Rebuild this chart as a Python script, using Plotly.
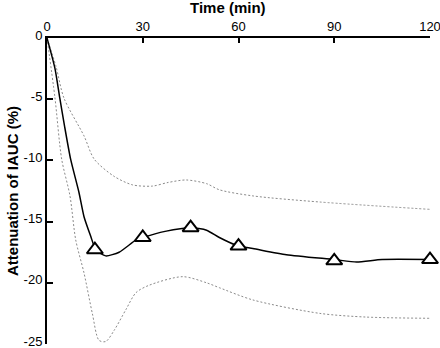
import plotly.graph_objects as go

# Mean curve (smoothed line)
curve_t = [0, 2.5, 4, 5.5, 7.4, 10, 11.6, 13.7, 15.3, 18.4, 22.6, 27.9, 30, 37, 45, 50, 54, 60, 64.5, 75, 90, 97, 105, 120]
curve_v = [0, -2.5, -4.9, -7.2, -9.9, -12.6, -14.6, -16.2, -17.3, -17.8, -17.5, -16.5, -16.3, -15.8, -15.5, -15.7, -16.3, -17.0, -17.2, -17.7, -18.1, -18.3, -18.1, -18.1]

# Measured time points (triangles)
marker_t = [15, 30, 45, 60, 90, 120]
marker_v = [-17.3, -16.3, -15.5, -17.0, -18.2, -18.1]

# Upper confidence band
upper_t = [0, 2.8, 5.3, 11.6, 14.8, 21, 26.8, 33, 38, 43.6, 50, 54, 64.5, 85.5, 120]
upper_v = [0, -2.3, -4.9, -8.0, -9.9, -11.3, -12.0, -12.1, -11.8, -11.6, -11.9, -12.4, -12.9, -13.4, -14.0]

# Lower confidence band
lower_t = [0, 2.5, 4.6, 7.2, 9, 11.6, 14.2, 16.3, 18.4, 21, 24.7, 27.9, 32, 42.5, 50, 54, 64.5, 85.5, 100, 120]
lower_v = [0, -4.9, -9.9, -12.9, -16.5, -19.2, -22.5, -24.7, -24.8, -23.9, -22.2, -20.8, -20.2, -19.5, -20.0, -20.4, -21.4, -22.5, -22.8, -22.9]

x_ticks = [0, 30, 60, 90, 120]
y_ticks = [0, -5, -10, -15, -20, -25]

x_title = "Time (min)"
y_title = "Attenuation of IAUC (%)"

fig = go.Figure()
dash_style = dict(color="#8a8a8a", width=1, dash="2px,2px", shape="spline", smoothing=0.8)
fig.add_trace(go.Scatter(x=upper_t, y=upper_v, mode="lines", line=dash_style, hoverinfo="skip", cliponaxis=False))
fig.add_trace(go.Scatter(x=lower_t, y=lower_v, mode="lines", line=dash_style, hoverinfo="skip", cliponaxis=False))
fig.add_trace(go.Scatter(x=curve_t, y=curve_v, mode="lines", cliponaxis=False,
                         line=dict(color="black", width=1.5, shape="spline", smoothing=0.6)))
fig.add_trace(go.Scatter(x=marker_t, y=marker_v, mode="markers", cliponaxis=False,
                         marker=dict(symbol="triangle-up", size=14, color="white",
                                     line=dict(color="black", width=2))))

fig.update_layout(
    width=440, height=348,
    margin=dict(l=47, r=10, t=38, b=4, autoexpand=False),
    paper_bgcolor="white", plot_bgcolor="white",
    showlegend=False,
    font=dict(family="Liberation Sans, Arial, sans-serif", color="black", size=13),
    xaxis=dict(
        side="top", range=[0, 120], tickvals=x_ticks, ticktext=[str(v) for v in x_ticks],
        ticks="inside", ticklen=5, tickwidth=1.5, tickcolor="black", automargin=False,
        ticklabeloverflow="allow",
        showline=True, linecolor="black", linewidth=2, showgrid=False, zeroline=False,
    ),
    yaxis=dict(
        range=[-25, 0], tickvals=y_ticks, ticktext=[str(v) for v in y_ticks],
        ticks="inside", ticklen=6, tickwidth=1.5, tickcolor="black", automargin=False,
        ticklabeloverflow="allow", ticklabelshift=-3,
        showline=True, linecolor="black", linewidth=2, showgrid=False, zeroline=False,
    ),
    annotations=[
        dict(text="<b>%s</b>" % x_title, xref="paper", yref="paper", x=0.473, y=1.0,
             yshift=31, showarrow=False, font=dict(size=15), xanchor="center", yanchor="middle"),
        dict(text="<b>%s</b>" % y_title, xref="paper", yref="paper", x=0, y=0.5,
             xshift=-35, showarrow=False, font=dict(size=15), textangle=-90,
             xanchor="center", yanchor="middle"),
    ],
)

fig.write_html("out.html", config={"displayModeBar": False},
               post_script="document.body.style.margin='0';")
